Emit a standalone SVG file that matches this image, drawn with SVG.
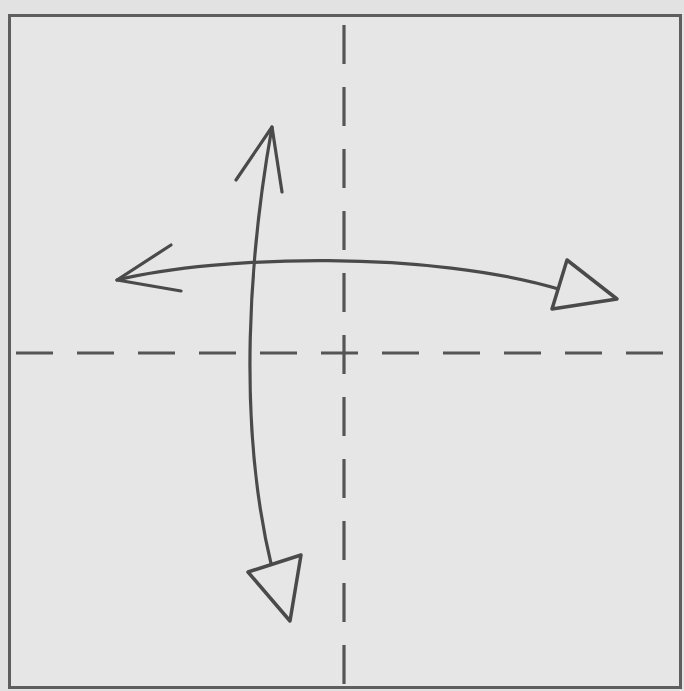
<svg xmlns="http://www.w3.org/2000/svg" width="684" height="691" viewBox="0 0 684 691">
<style>
.fold{fill:none;stroke:#555;stroke-width:3.2}
.v{stroke-dasharray:39 23}
.h{stroke-dasharray:37 24}
.arr{fill:none;stroke:#4a4a4a;stroke-width:3.2;stroke-linecap:round;stroke-linejoin:round}
.head{fill:#e6e6e6;stroke:#4a4a4a;stroke-width:3.5;stroke-linejoin:round}
</style>
<rect x="0" y="0" width="684" height="691" fill="#e2e2e2"/>
<g id="paper">
<rect x="9.5" y="15.5" width="671" height="672" fill="#e6e6e6" stroke="#5e5e5e" stroke-width="3"/>
</g>
<g id="folds">
<line class="fold v" x1="344" y1="25" x2="344" y2="688"/>
<line class="fold h" x1="16" y1="353" x2="681" y2="353"/>
</g>
<g id="connectors">
<path class="arr" d="M272,127 C250,250 236,420 272,568"/>
<path class="arr" d="M236,180 L272,127 L282,192"/>
<path class="head" d="M248,572 L301,555 L290,621 Z"/>
<path class="arr" d="M117,280 C220,255 430,250 562,290"/>
<path class="arr" d="M171,245 L117,280 L181,291"/>
<path class="head" d="M567,260 L617,299 L552,309 Z"/>
</g>
</svg>
